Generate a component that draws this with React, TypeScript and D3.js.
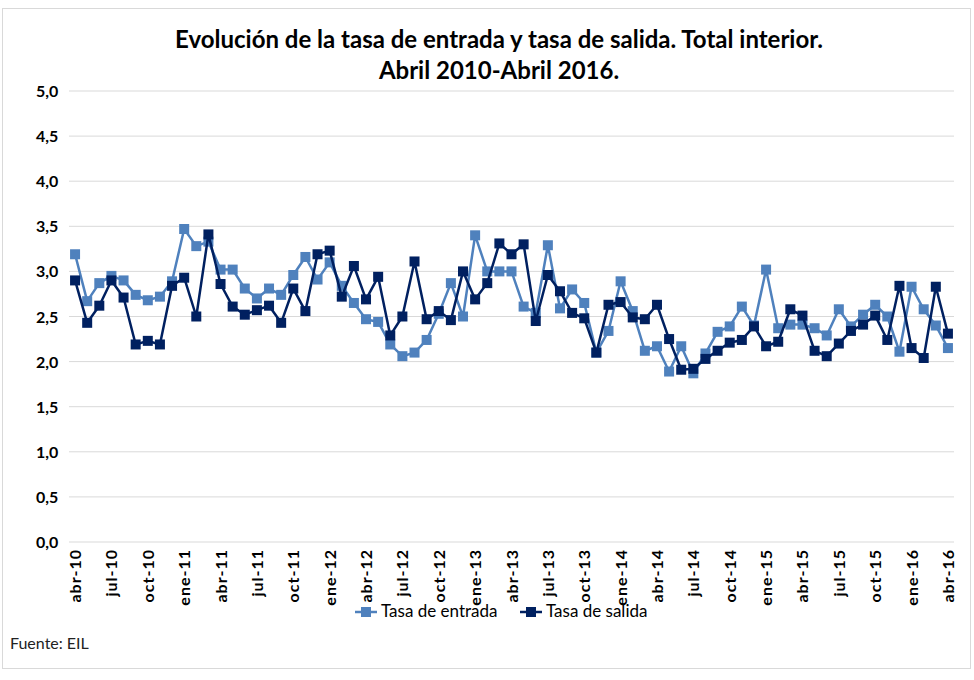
import React from 'react';
import { scaleLinear, scaleBand, line } from 'd3';

const months = ['abr', 'may', 'jun', 'jul', 'ago', 'sep', 'oct', 'nov', 'dic', 'ene', 'feb', 'mar'];
// abr-10 .. abr-16, 73 months
const categories: string[] = Array.from({ length: 73 }, (_, i) => {
  const m = months[i % 12];
  const yr = 10 + Math.floor((i + 3) / 12);
  return `${m}-${yr}`;
});

const entrada = [
  3.19, 2.67, 2.87, 2.95, 2.9, 2.74, 2.68, 2.72, 2.89, 3.47, 3.28, 3.33,
  3.02, 3.02, 2.81, 2.7, 2.81, 2.74, 2.96, 3.16, 2.91, 3.1, 2.84, 2.65,
  2.47, 2.44, 2.19, 2.06, 2.1, 2.24, 2.53, 2.87, 2.5, 3.4, 3.0, 3.0,
  3.0, 2.61, 2.54, 3.29, 2.59, 2.8, 2.65, 2.1, 2.34, 2.89, 2.56, 2.12,
  2.17, 1.89, 2.17, 1.87, 2.09, 2.33, 2.39, 2.61, 2.4, 3.02, 2.37, 2.41,
  2.41, 2.37, 2.29, 2.58, 2.39, 2.52, 2.63, 2.5, 2.11, 2.83, 2.58, 2.4,
  2.15
];

const salida = [
  2.9, 2.43, 2.62, 2.9, 2.71, 2.19, 2.23, 2.19, 2.84, 2.93, 2.5, 3.41,
  2.86, 2.61, 2.52, 2.57, 2.62, 2.43, 2.81, 2.56, 3.19, 3.23, 2.72, 3.06,
  2.69, 2.94, 2.29, 2.5, 3.11, 2.47, 2.56, 2.46, 3.0, 2.69, 2.87, 3.31,
  3.19, 3.3, 2.45, 2.96, 2.78, 2.54, 2.48, 2.1, 2.63, 2.66, 2.49, 2.47,
  2.63, 2.25, 1.91, 1.92, 2.03, 2.12, 2.21, 2.24, 2.39, 2.17, 2.22, 2.58,
  2.51, 2.12, 2.06, 2.2, 2.34, 2.41, 2.51, 2.24, 2.84, 2.15, 2.04, 2.83,
  2.31
];

const yTicks = [0, 0.5, 1, 1.5, 2, 2.5, 3, 3.5, 4, 4.5, 5];
const seriesNames = ['Tasa de entrada', 'Tasa de salida'];
const colors = ['#4f81bd', '#002060'];

const width = 974;
const height = 680;
const plot = { left: 69, right: 954, top: 91, bottom: 542 };
const font = 'Lato, "Open Sans", sans-serif';

export default function App() {
  const x = scaleBand<string>().domain(categories).range([plot.left, plot.right]);
  const y = scaleLinear().domain([0, 5]).range([plot.bottom, plot.top]);
  const cx = (c: string) => (x(c) ?? 0) + x.bandwidth() / 2;

  const path = line<number>()
    .x((_, i) => cx(categories[i]))
    .y(d => y(d));

  const series = [entrada, salida];
  const ms = 10;

  return (
    <svg
      width={width}
      height={height}
      style={{ position: 'absolute', left: 0, top: 0, background: '#fff' }}
      fontFamily={font}
    >
      <rect x={2.5} y={8.5} width={968} height={660} fill="#fff" stroke="#d9d9d9" />
      <text x={499} y={48} textAnchor="middle" fontSize={24} fontWeight="bold" fill="#000">
        Evolución de la tasa de entrada y tasa de salida. Total interior.
      </text>
      <text x={499} y={79} textAnchor="middle" fontSize={24} fontWeight="bold" fill="#000">
        Abril 2010-Abril 2016.
      </text>

      {yTicks.map(t => (
        <g key={t}>
          <line x1={plot.left} x2={plot.right} y1={y(t)} y2={y(t)} stroke="#d9d9d9" strokeWidth={1} />
          <text x={36} y={y(t) + 6} fontSize={16} fontWeight="bold" fill="#000">
            {t.toFixed(1).replace('.', ',')}
          </text>
        </g>
      ))}

      {categories.map((c, i) =>
        i % 3 === 0 ? (
          <text
            key={c}
            transform={`translate(${cx(c) + 6},${plot.bottom + 7}) rotate(-90)`}
            textAnchor="end"
            fontSize={16}
            fontWeight="bold"
            letterSpacing={1}
            fill="#000"
          >
            {c}
          </text>
        ) : null
      )}

      {series.map((s, k) => (
        <g key={k}>
          <path d={path(s) ?? ''} fill="none" stroke={colors[k]} strokeWidth={2.5} strokeLinejoin="round" />
          {s.map((v, i) => (
            <rect
              key={i}
              x={cx(categories[i]) - ms / 2}
              y={y(v) - ms / 2}
              width={ms}
              height={ms}
              fill={colors[k]}
            />
          ))}
        </g>
      ))}

      {seriesNames.map((n, k) => {
        const lx = k === 0 ? 355 : 520;
        return (
          <g key={n}>
            <line x1={lx} x2={lx + 22} y1={612} y2={612} stroke={colors[k]} strokeWidth={2.5} />
            <rect x={lx + 6} y={607} width={10} height={10} fill={colors[k]} />
            <text x={lx + 26} y={617} fontSize={17} fill="#000">{n}</text>
          </g>
        );
      })}

      <text x={10} y={649} fontSize={16} fill="#222">Fuente: EIL</text>
    </svg>
  );
}
